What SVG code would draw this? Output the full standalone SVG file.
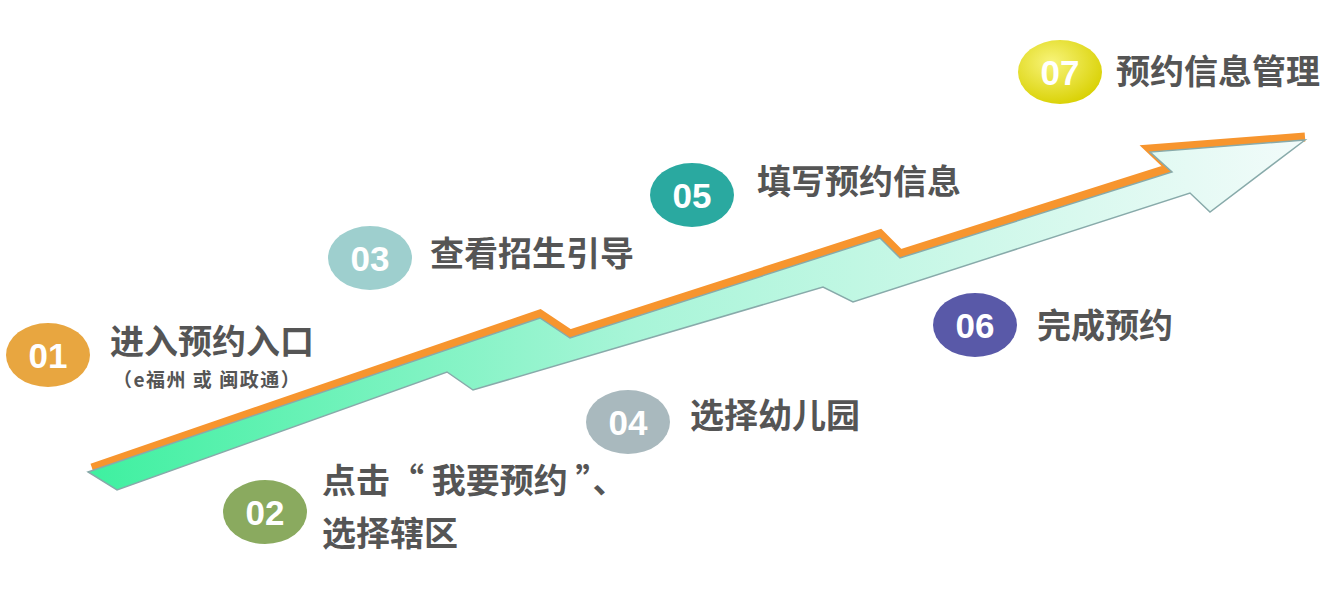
<svg xmlns="http://www.w3.org/2000/svg" width="1337" height="601" viewBox="0 0 1337 601">
<style>
.n{font-family:"Liberation Sans",Arial,sans-serif;font-weight:bold;font-size:35px;fill:#fff;text-anchor:middle}
.t{font-family:"Noto Sans CJK SC",sans-serif;font-weight:bold;font-size:34px;fill:#555}
.s{font-family:"Noto Sans CJK SC",sans-serif;font-weight:bold;font-size:19px;fill:#555;letter-spacing:1.5px}
</style>
<defs>
<linearGradient id="g" x1="0" y1="0" x2="1" y2="0">
<stop offset="0" stop-color="#3ef0a0"/><stop offset="0.45" stop-color="#a8f5d8"/><stop offset="1" stop-color="#f2fbfa"/>
</linearGradient>
<radialGradient id="y" cx="0.4" cy="0.35" r="0.7"><stop offset="0" stop-color="#f8f47a"/><stop offset="1" stop-color="#d8d000"/></radialGradient>
</defs>
<g id="connectors">
<polyline points="92,468 540,314 570,334 880,234 900,254 1170,168 1150,149 1305,137" fill="none" stroke="#f7952e" stroke-width="9" stroke-linejoin="miter"/>
<polygon points="88,472 540,318 570,338 880,238 900,258 1172,172 1150,152 1305,140 1210,212 1190,193 853,302 823,287 473,390 447,372 117,490" fill="url(#g)" stroke="#8aa" stroke-width="1.5"/>
</g>
<g id="n1"><ellipse cx="48" cy="355" rx="42" ry="32" fill="#e8a640"/><text class="n" x="48" y="368">01</text>
<text class="t" x="110" y="354">进入预约入口</text><text class="s" x="113" y="387">（e福州 或 闽政通）</text></g>
<g id="n2"><ellipse cx="265" cy="512" rx="42" ry="32" fill="#8aaa5f"/><text class="n" x="265" y="525">02</text>
<text class="t" x="322" y="493">点击“ 我要预约 ”、</text><text class="t" x="322" y="546">选择辖区</text></g>
<g id="n3"><ellipse cx="370" cy="258" rx="42" ry="32" fill="#9ecfce"/><text class="n" x="370" y="271">03</text>
<text class="t" x="430" y="266">查看招生引导</text></g>
<g id="n4"><ellipse cx="628" cy="422" rx="42" ry="32" fill="#a9b9be"/><text class="n" x="628" y="435">04</text>
<text class="t" x="690" y="428">选择幼儿园</text></g>
<g id="n5"><ellipse cx="692" cy="195" rx="42" ry="32" fill="#2aa9a0"/><text class="n" x="692" y="208">05</text>
<text class="t" x="757" y="194">填写预约信息</text></g>
<g id="n6"><ellipse cx="975" cy="325" rx="42" ry="32" fill="#5959a8"/><text class="n" x="975" y="338">06</text>
<text class="t" x="1037" y="338">完成预约</text></g>
<g id="n7"><ellipse cx="1060" cy="72" rx="42" ry="32" fill="url(#y)"/><text class="n" x="1060" y="85">07</text>
<text class="t" x="1116" y="84">预约信息管理</text></g>
</svg>
